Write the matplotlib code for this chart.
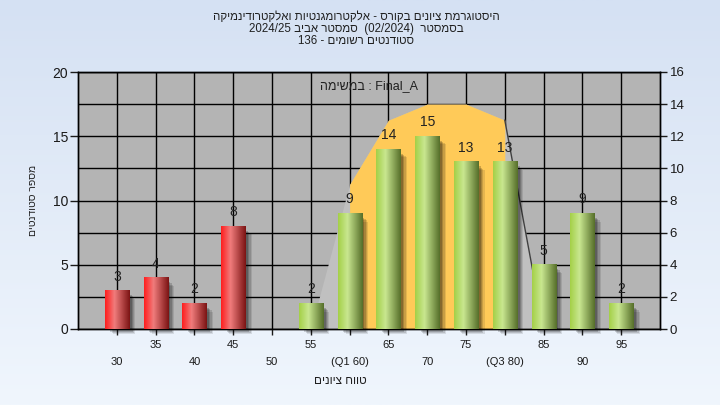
import numpy as np
import matplotlib.pyplot as plt
from matplotlib.colors import LinearSegmentedColormap
from matplotlib.patches import Rectangle
import matplotlib.transforms as mtransforms

# grade bins and number of students in each
grades = [30, 35, 40, 45, 50, 55, 60, 65, 70, 75, 80, 85, 90, 95]
counts = [3, 4, 2, 8, 0, 2, 9, 14, 15, 13, 13, 5, 9, 2]
tick_labels = ['30', '35', '40', '45', '50', '55', '(Q1 60)', '65', '70', '75',
               '(Q3 80)', '85', '90', '95']
pass_grade = 55
q1, q3 = 60, 80

# background curve (right axis)
curve_grades = [55, 60, 65, 70, 75, 80, 85]
curve_vals = [0, 9, 13, 14, 14, 13, 0]

# Hebrew text is stored in visual (left-to-right) order
title_lines = ['הקימנידורטקלאו תויטנגמורטקלא - סרוקב םינויצ תמרגוטסיה',
               '2024/25 ביבא רטסמס  (02/2024)  רטסמסב',
               '136 - םימושר םיטנדוטס']
note = 'המישמב : Final_A'
xlabel = 'םינויצ חווט'
ylabel = 'םיטנדוטס רפסמ'

plt.rcParams['font.family'] = ['Liberation Sans', 'DejaVu Sans']

fig = plt.figure(figsize=(7.2, 4.05), dpi=100)

# figure background gradient
bg = fig.add_axes([0, 0, 1, 1], zorder=-10)
bg.imshow(np.linspace(0, 1, 256).reshape(-1, 1), aspect='auto',
          cmap=LinearSegmentedColormap.from_list('bg', ['#d5e1f3', '#f0f6fd']),
          extent=[0, 1, 0, 1])
bg.axis('off')

ax = fig.add_axes([78 / 720, 1 - 329 / 405, 582 / 720, 257 / 405])
ax2 = ax.twinx()
ax.set_zorder(ax2.get_zorder() + 1)
ax.patch.set_visible(False)
ax2.patch.set_visible(True)
ax2.patch.set_facecolor('#b4b4b4')

pos = np.arange(1, len(grades) + 1)
gpos = dict(zip(grades, pos))
ax.set_xlim(0, len(grades) + 1)
ax.set_ylim(0, 20)
ax2.set_ylim(0, 16)

# grid (below the area)
ax2.set_axisbelow(True)
ax2.set_yticks(np.arange(0, 17, 2))
ax2.yaxis.grid(True, color='black', lw=1)
ax2.vlines(pos, 0, 16, color='black', lw=1, zorder=0.6)

# area
cx = [gpos[g] for g in curve_grades]
ax2.fill_between(cx, curve_vals, color='#c0c0c0', lw=0, zorder=1)
inq = [q1 <= g <= q3 for g in curve_grades]
ax2.fill_between(cx, curve_vals, where=inq, color='#ffca58', lw=0, zorder=1.1)
ax2.plot(cx[-2:], curve_vals[-2:], color='#404040', lw=1, zorder=1.2)

# bars with cylinder shading and drop shadow
red = LinearSegmentedColormap.from_list('r', [(0, '#ff1e1e'), (0.38, '#f07c7c'),
                                              (1, '#7c1414')])
green = LinearSegmentedColormap.from_list('g', [(0, '#a4d048'), (0.38, '#c9e790'),
                                                (1, '#566f2a')])
grad = np.linspace(0, 1, 64).reshape(1, -1)
width = 0.62
colors = ['#e03030' if g < pass_grade else '#9cc850' for g in grades]
bars = ax.bar(pos, counts, width=width, color=colors, zorder=3)

for b, g in zip(bars, grades):
    h = b.get_height()
    if h == 0:
        continue
    x0 = b.get_x()
    for k, a in enumerate([0.10, 0.13, 0.16, 0.20]):
        d = (4 - k) * 0.9
        off = mtransforms.ScaledTranslation(d / 72, -d / 72, fig.dpi_scale_trans)
        ax.add_patch(Rectangle((x0 + 0.08, 0), width - 0.04, h - 0.25, color='black',
                               alpha=a, lw=0, zorder=2, clip_on=False,
                               transform=ax.transData + off))
    ax.imshow(grad, extent=[x0, x0 + width, 0, h], aspect='auto',
              cmap=red if g < pass_grade else green, zorder=3.5)

ax.set_xlim(0, len(grades) + 1)
ax.set_ylim(0, 20)
ax.bar_label(bars, labels=[str(c) if c else '' for c in counts], padding=5,
             fontsize=10, color='#222222')

# axes and ticks
for a in (ax, ax2):
    for s in a.spines.values():
        s.set_color('black')
        s.set_linewidth(1)
ax.set_yticks([0, 5, 10, 15, 20])
ax.tick_params(axis='y', length=6, width=1, pad=1, labelsize=10, colors='#1a1a1a')
ax2.tick_params(axis='y', length=5, width=1, pad=2, labelsize=9.5, colors='#1a1a1a')
ax.set_xticks(pos, tick_labels)
ax.tick_params(axis='x', length=4, width=1, labelsize=8, colors='#1a1a1a')
for i, t in enumerate(ax.xaxis.get_major_ticks()):
    t.set_pad(4 if i % 2 else 16)

# texts
for i, line in enumerate(title_lines):
    fig.text(0.495, 1 - (17 + 12 * i) / 405, line, ha='center', va='center',
             fontsize=8.3, color='#202020')
ax.text(0.5, 0.945, note, transform=ax.transAxes, ha='center', va='center',
        fontsize=9, color='#202020')
fig.text(340 / 720, 1 - 381 / 405, xlabel, ha='center', va='center', fontsize=8.5,
         color='#202020')
fig.text(33 / 720, 1 - 200 / 405, ylabel, ha='center', va='center', rotation=90,
         fontsize=7.5, color='#202020')

fig.savefig('out.png', dpi=100)
